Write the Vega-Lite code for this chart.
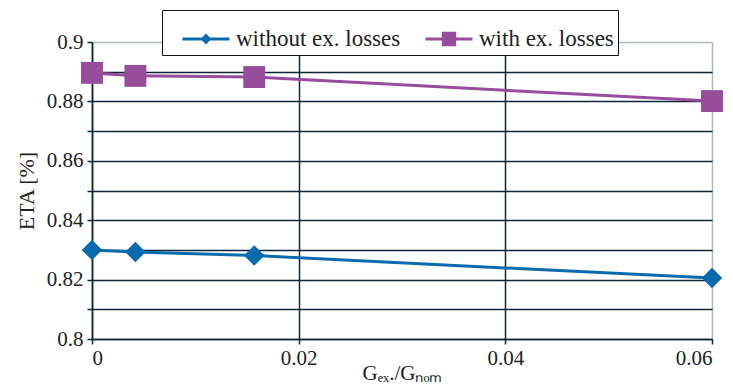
{
  "$schema": "https://vega.github.io/schema/vega-lite/v6.json",
  "width": 620,
  "height": 297,
  "autosize": {"type": "none"},
  "padding": {"left": 92, "top": 42, "right": 21, "bottom": 48},
  "background": "white",
  "config": {
    "font": "Liberation Serif",
    "view": {"stroke": null},
    "style": {"guide-label": {"font": "Liberation Serif"}, "guide-title": {"font": "Liberation Serif"}},
    "axis": {
      "labelFont": "Liberation Serif",
      "titleFont": "Liberation Serif",
      "labelFontSize": 21,
      "titleFontSize": 22,
      "labelColor": "#222222",
      "titleColor": "#222222",
      "titleFontWeight": "normal",
      "domainColor": "#0f2536",
      "domainWidth": 1.5,
      "tickColor": "#0f2536",
      "tickWidth": 1.5,
      "tickSize": 5
    }
  },
  "data": {
    "values": [
      {"x": 0, "y": 0.8300, "series": "without ex. losses"},
      {"x": 0.0042, "y": 0.8293, "series": "without ex. losses"},
      {"x": 0.0157, "y": 0.8281, "series": "without ex. losses"},
      {"x": 0.06, "y": 0.8205, "series": "without ex. losses"},
      {"x": 0, "y": 0.8896, "series": "with ex. losses"},
      {"x": 0.0042, "y": 0.8886, "series": "with ex. losses"},
      {"x": 0.0157, "y": 0.8882, "series": "with ex. losses"},
      {"x": 0.06, "y": 0.8801, "series": "with ex. losses"}
    ]
  },
  "encoding": {
    "x": {
      "field": "x",
      "type": "quantitative",
      "scale": {"domain": [0, 0.06], "nice": false, "zero": false},
      "axis": {
        "values": [0, 0.02, 0.04, 0.06],
        "format": ".2~f",
        "labelFont": "Liberation Serif",
        "title": "Gₑₓ./Gₙₒₘ",
        "titleFont": "Liberation Serif",
        "titleFontSize": 21,
        "titleBaseline": "middle",
        "titleY": 34,
        "labelPadding": 3,
        "grid": true,
        "gridWidth": 1.5,
        "gridColor": {"condition": {"test": "datum.value >= 0.059", "value": "#a9bac7"}, "value": "#0f2536"}
      }
    },
    "y": {
      "field": "y",
      "type": "quantitative",
      "scale": {"domain": [0.8, 0.9], "nice": false, "zero": false},
      "axis": {
        "values": [0.8, 0.81, 0.82, 0.83, 0.84, 0.85, 0.86, 0.87, 0.88, 0.89, 0.9],
        "format": ".2~f",
        "labelFont": "Liberation Serif",
        "labelExpr": "round(datum.value*100) % 2 == 0 ? datum.label : ''",
        "title": "ETA [%]",
        "titleFont": "Liberation Serif",
        "titlePadding": 8,
        "labelPadding": 4,
        "grid": true,
        "gridWidth": 1.5,
        "gridColor": {"condition": {"test": "datum.value >= 0.899", "value": "#a9bac7"}, "value": "#0f2536"}
      }
    },
    "color": {
      "field": "series",
      "type": "nominal",
      "scale": {"domain": ["without ex. losses", "with ex. losses"], "range": ["#0a6aae", "#974c9c"]},
      "legend": {
        "orient": "none",
        "direction": "horizontal",
        "legendX": 70,
        "legendY": -32,
        "title": "\u00a0",
        "titleOrient": "left",
        "titleFontSize": 8,
        "titlePadding": 15,
        "labelFont": "Liberation Serif",
        "labelFontSize": 23,
        "labelLimit": 0,
        "labelColor": "#222222",
        "labelOffset": 5,
        "symbolSize": 2209,
        "symbolStrokeWidth": 3,
        "columnPadding": 18,
        "padding": 4,
        "strokeColor": "#111111",
        "fillColor": "white",
        "symbolType": "M-1,0H1M-0.14,0L0,-0.14L0.14,0L0,0.14Z",
        "encode": {
          "symbols": {
            "update": {
              "shape": {"signal": "datum.value == 'with ex. losses' ? 'M-1,0H1M-0.24,-0.24H0.24V0.24H-0.24Z' : 'M-1,0H1M-0.14,0L0,-0.14L0.14,0L0,0.14Z'"},
              "fillOpacity": {"value": 1},
              "strokeWidth": {"value": 3}
            }
          }
        }
      }
    }
  },
  "layer": [
    {"mark": {"type": "line", "strokeWidth": 3}},
    {
      "transform": [{"filter": "datum.series == 'without ex. losses'"}],
      "mark": {"type": "point", "filled": true, "opacity": 1, "shape": "diamond", "size": 420}
    },
    {
      "transform": [{"filter": "datum.series == 'with ex. losses'"}],
      "mark": {"type": "point", "filled": true, "opacity": 1, "shape": "square", "size": 480}
    }
  ]
}
